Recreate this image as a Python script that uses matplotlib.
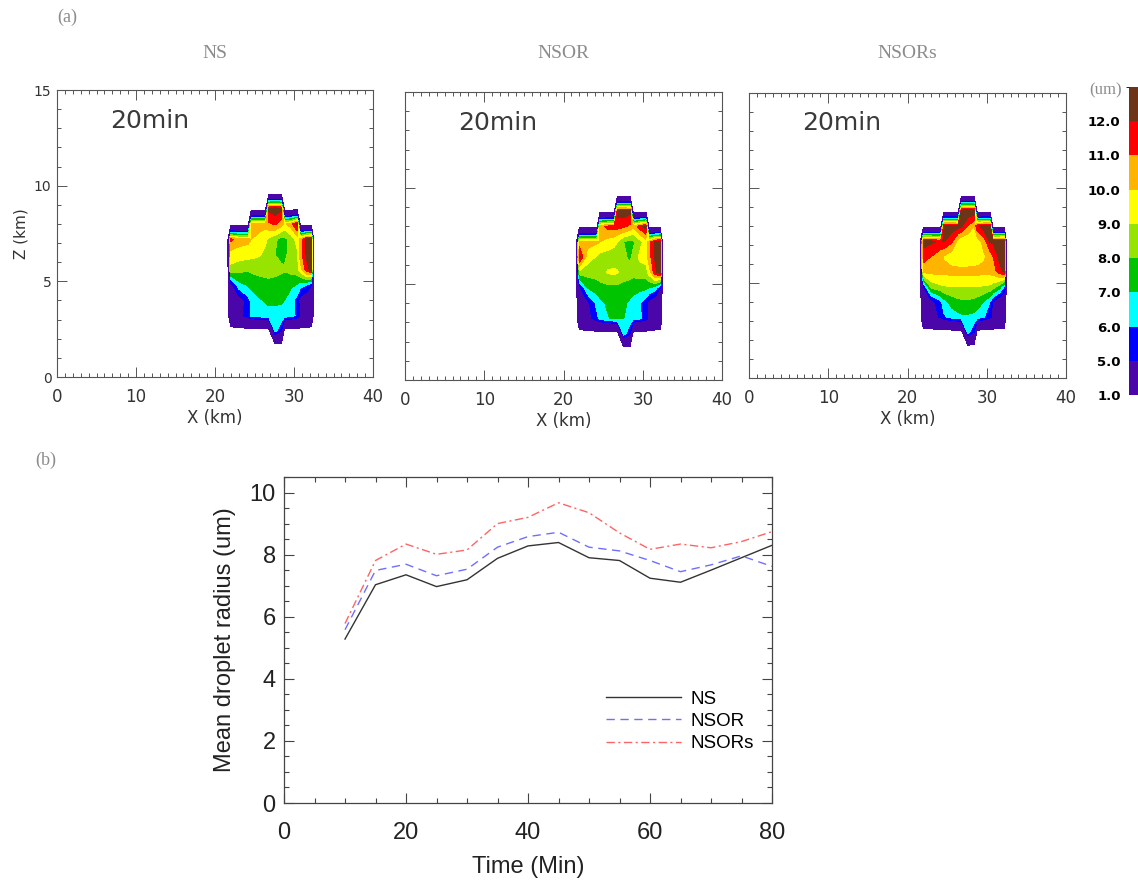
"""Droplet radius cross-sections (a) and mean droplet radius time series (b)."""

import matplotlib.pyplot as plt
import numpy as np
from matplotlib.colors import BoundaryNorm, ListedColormap
from matplotlib.colorbar import ColorbarBase
from matplotlib.ticker import MultipleLocator

W, H = 1138, 884

# ---- (a) droplet radius (um) on the (stretched) model grid
# rows: z = 8.8 .. 2.4 km (top first); columns: x_km
x_km = [22.0, 23.0, 24.2, 24.6, 25.6, 26.4, 26.8, 27.6, 28.4, 28.8, 29.6, 30.4, 30.8, 31.6, 32.2]
z_km = [8.8, 8.0, 7.2, 6.4, 5.6, 4.8, 4.0, 3.2, 2.4]

radius_ns = [
    [0, 0, 0, 0, 0, 0, 12.3, 12.6, 12.3, 0, 0, 0, 0, 0, 0],
    [0, 0, 0, 10.6, 10.5, 10.4, 10.8, 11.2, 10.5, 9.8, 10.5, 12.4, 0, 0, 0],
    [11.3, 10.5, 10.3, 10.0, 9.6, 9.2, 8.8, 8.2, 7.6, 7.7, 8.4, 9.4, 10.4, 12.3, 12.6],
    [9.5, 9.5, 9.4, 9.3, 9.1, 8.7, 8.5, 8.0, 7.7, 7.8, 8.3, 8.8, 10.5, 12.2, 12.6],
    [8.7, 8.3, 8.1, 8.2, 8.4, 8.5, 8.5, 8.4, 8.2, 8.1, 8.3, 8.6, 9.5, 11.5, 12.4],
    [4.5, 6.6, 7.1, 7.3, 7.4, 7.5, 7.6, 7.5, 7.4, 7.3, 7.2, 6.9, 6.4, 6.0, 5.0],
    [3.6, 4.2, 5.6, 6.3, 6.9, 7.1, 7.15, 7.15, 7.1, 7.0, 6.4, 5.6, 4.5, 3.8, 3.5],
    [3.6, 4.3, 5.6, 6.2, 6.5, 6.6, 6.7, 6.7, 6.7, 6.6, 6.4, 5.8, 4.8, 4.0, 3.6],
    [0, 0, 0, 0, 0, 0, 0, 6.3, 5.0, 0, 0, 0, 0, 0, 0],
]
radius_nsor = [
    [0, 0, 0, 0, 0, 0, 12.5, 12.6, 12.3, 0, 0, 0, 0, 0, 0],
    [0, 0, 0, 10.6, 11.3, 11.5, 11.4, 11.2, 10.8, 10.2, 11.5, 12.5, 0, 0, 0],
    [10.5, 10.4, 10.2, 10.0, 9.6, 9.3, 9.0, 8.0, 7.7, 7.8, 8.6, 9.5, 10.5, 12.3, 12.6],
    [12.3, 9.5, 8.9, 8.6, 8.5, 8.5, 8.5, 8.2, 7.8, 8.3, 9.2, 9.5, 10.5, 12.2, 12.6],
    [8.6, 8.4, 8.4, 8.6, 9.1, 9.2, 9.1, 8.6, 8.4, 8.3, 8.5, 8.5, 9.5, 11.8, 12.4],
    [4.6, 7.0, 7.5, 7.6, 7.7, 7.7, 7.7, 7.6, 7.5, 7.4, 7.3, 7.2, 7.0, 6.5, 5.0],
    [3.6, 4.6, 6.3, 6.7, 7.2, 7.4, 7.4, 7.2, 6.8, 6.6, 6.1, 5.4, 4.5, 3.8, 3.5],
    [3.6, 4.4, 5.7, 6.3, 6.9, 7.2, 7.2, 7.0, 6.6, 6.5, 6.2, 5.5, 4.6, 3.8, 3.6],
    [0, 0, 0, 0, 0, 0, 0, 6.5, 5.0, 0, 0, 0, 0, 0, 0],
]
radius_nsors = [
    [0, 0, 0, 0, 0, 0, 12.7, 12.8, 12.7, 0, 0, 0, 0, 0, 0],
    [0, 0, 0, 12.5, 12.6, 12.4, 12.2, 11.0, 10.0, 11.8, 12.5, 12.6, 0, 0, 0],
    [12.4, 12.2, 11.8, 12.1, 11.2, 9.6, 9.2, 9.1, 9.2, 9.4, 10.4, 12.1, 12.2, 12.4, 12.6],
    [11.5, 11.0, 10.3, 9.9, 9.4, 9.3, 9.3, 9.3, 9.4, 9.5, 9.8, 10.4, 11.0, 12.3, 12.6],
    [10.3, 10.3, 10.3, 10.3, 10.3, 10.3, 10.3, 10.3, 10.3, 10.3, 10.3, 10.3, 10.5, 11.5, 12.2],
    [5.0, 8.3, 8.8, 8.9, 9.0, 9.0, 9.0, 9.0, 9.0, 9.0, 8.9, 8.8, 8.5, 7.5, 6.0],
    [3.6, 4.5, 5.8, 6.6, 7.4, 7.7, 7.8, 7.8, 7.7, 7.5, 7.0, 6.0, 4.8, 3.8, 3.5],
    [3.6, 4.3, 5.2, 5.8, 6.4, 6.7, 6.8, 6.8, 6.7, 6.5, 6.1, 5.3, 4.5, 3.8, 3.6],
    [0, 0, 0, 0, 0, 0, 0, 6.4, 5.0, 0, 0, 0, 0, 0, 0],
]
panel_names = ["NS", "NSOR", "NSORs"]

levels = [1, 5, 6, 7, 8, 9, 10, 11, 12, 13]
level_labels = ["1.0", "5.0", "6.0", "7.0", "8.0", "9.0", "10.0", "11.0", "12.0"]
level_colors = ["#4a06a8", "#0000ff", "#00ffff", "#00c400", "#96e400",
                "#ffff00", "#ffb400", "#ff0000", "#6e3418"]

# ---- (b) mean droplet radius (um)
time_min = [10, 15, 20, 25, 30, 35, 40, 45, 50, 55, 60, 65, 70, 75, 80]
mean_ns = [5.28, 7.03, 7.35, 6.97, 7.19, 7.88, 8.28, 8.39, 7.90, 7.81, 7.24, 7.11, 7.50, 7.90, 8.30]
mean_nsor = [5.58, 7.49, 7.69, 7.32, 7.53, 8.24, 8.58, 8.72, 8.24, 8.12, 7.81, 7.45, 7.67, 7.96, 7.62]
mean_nsors = [5.78, 7.81, 8.34, 8.01, 8.15, 9.00, 9.20, 9.67, 9.35, 8.70, 8.17, 8.34, 8.22, 8.42, 8.74]

GRAY = "#8c8c8c"
AX_COL = "#555555"


def px_axes(fig, left, top, right, bottom):
    return fig.add_axes([left / W, 1 - bottom / H, (right - left) / W, (bottom - top) / H])


def style_section(ax, show_y):
    ax.set_xlim(0, 40)
    ax.set_ylim(0, 15)
    ax.xaxis.set_major_locator(MultipleLocator(10))
    ax.xaxis.set_minor_locator(MultipleLocator(1))
    ax.yaxis.set_major_locator(MultipleLocator(5))
    ax.yaxis.set_minor_locator(MultipleLocator(1))
    ax.tick_params(which="both", direction="in", top=True, right=True, color=AX_COL, width=0.7)
    ax.tick_params(which="major", length=7)
    ax.tick_params(which="minor", length=3)
    ax.tick_params(axis="x", labelsize=12, labelcolor="#333333", pad=8)
    ax.tick_params(axis="y", labelsize=10, labelcolor="#333333", pad=4, labelleft=show_y)
    for s in ax.spines.values():
        s.set_color(AX_COL)
        s.set_linewidth(0.8)
    ax.set_xlabel("X (km)", fontsize=12, color="#333333", labelpad=2)
    if show_y:
        ax.set_ylabel("Z (km)", fontsize=11, color="#333333", labelpad=4)


fig = plt.figure(figsize=(W / 100, H / 100), dpi=100)

xs = np.array([21.6] + x_km + [32.5])
zs = np.array([1.6] + z_km[::-1] + [9.6])
cmap = ListedColormap(level_colors)
norm = BoundaryNorm(levels, cmap.N)

boxes = [(57, 90, 373, 377), (405, 92, 722, 380), (749, 93, 1066, 378)]
grids = [radius_ns, radius_nsor, radius_nsors]
for i, (box, grid, name) in enumerate(zip(boxes, grids, panel_names)):
    ax = px_axes(fig, *box)
    field = np.pad(np.array(grid, dtype=float)[::-1], 1)
    ax.contourf(xs, zs, field, levels=levels[:-1] + [30], colors=level_colors)
    style_section(ax, show_y=(i == 0))
    ax.text(6.7, 13.4, "20min", fontsize=18, color="#3a3a3a", va="center", ha="left")
    cx = (box[0] + box[2]) / 2
    fig.text(cx / W, 1 - 54 / H, name, fontsize=14, color=GRAY,
             family="Liberation Serif", ha="center", va="center")

fig.text(67 / W, 1 - 17 / H, "(a)", fontsize=13, color=GRAY, family="Liberation Serif",
         ha="center", va="center")
fig.text(46 / W, 1 - 460 / H, "(b)", fontsize=13, color=GRAY, family="Liberation Serif",
         ha="center", va="center")

# colour bar (cut by the right edge of the figure)
cax = px_axes(fig, 1129, 87, 1170, 395)
cb = ColorbarBase(cax, cmap=cmap, norm=norm, boundaries=levels, spacing="uniform",
                  orientation="vertical")
cb.outline.set_visible(False)
cb.set_ticks(levels[:-1])
cb.set_ticklabels(level_labels)
cax.yaxis.set_ticks_position("left")
cax.tick_params(length=0, pad=6, labelsize=9.5)
for t in cax.get_yticklabels():
    t.set_fontweight("bold")
fig.text(1106 / W, 1 - 90 / H, "(um)", fontsize=12, color=GRAY, family="Liberation Serif",
         ha="center", va="center")

# ---- (b)
sans = ["Liberation Sans", "DejaVu Sans"]
ax = px_axes(fig, 284, 477, 772, 803)
ax.plot(time_min, mean_ns, color="#333333", lw=1.0, label="NS")
ax.plot(time_min, mean_nsor, color="#6f6fff", lw=1.0, ls=(0, (6, 4)), label="NSOR")
ax.plot(time_min, mean_nsors, color="#ff6464", lw=1.0, ls=(0, (6, 2.5, 1.5, 2.5)), label="NSORs")
ax.set_xlim(0, 80)
ax.set_ylim(0, 10.5)
ax.xaxis.set_major_locator(MultipleLocator(20))
ax.xaxis.set_minor_locator(MultipleLocator(5))
ax.yaxis.set_major_locator(MultipleLocator(2))
ax.yaxis.set_minor_locator(MultipleLocator(0.5))
ax.tick_params(which="both", direction="in", top=True, right=True, color="#444444", width=0.8)
ax.tick_params(which="major", length=7)
ax.tick_params(which="minor", length=3.5)
ax.tick_params(axis="x", pad=14)
ax.tick_params(axis="y", pad=6)
for t in ax.get_xticklabels() + ax.get_yticklabels():
    t.set_family(sans)
    t.set_fontsize(17)
    t.set_color("#222222")
for s in ax.spines.values():
    s.set_color("#444444")
    s.set_linewidth(0.9)
ax.set_xlabel("Time (Min)", family=sans, fontsize=17, color="#222222", labelpad=8)
ax.set_ylabel("Mean droplet radius (um)", family=sans, fontsize=17, color="#222222", labelpad=10)
ax.legend(loc="upper left", bbox_to_anchor=(0.66, 0.345), frameon=False, handlelength=4.0,
          handletextpad=0.5, labelspacing=0.28, borderpad=0, borderaxespad=0,
          prop={"family": ["Liberation Sans Narrow", "Liberation Sans"], "size": 13.5})

fig.savefig("out.png", dpi=100)
